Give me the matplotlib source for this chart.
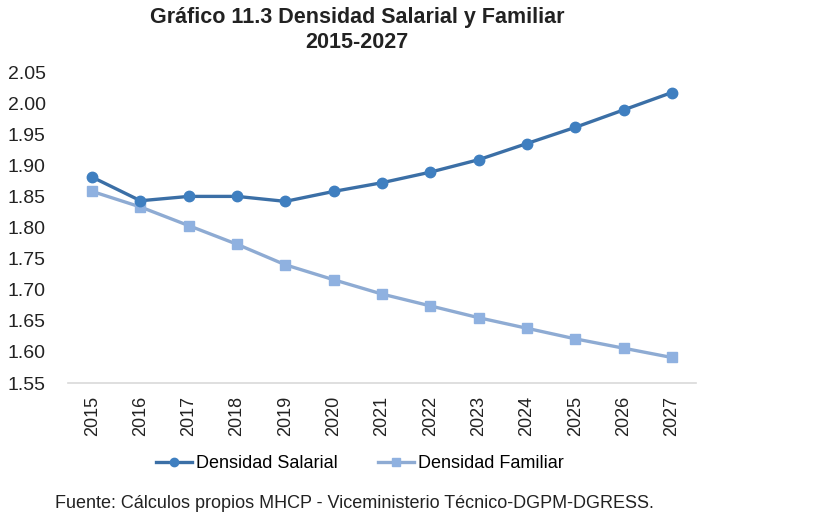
import matplotlib.pyplot as plt

years = ["2015", "2016", "2017", "2018", "2019", "2020", "2021",
         "2022", "2023", "2024", "2025", "2026", "2027"]
salarial = [1.881, 1.843, 1.850, 1.850, 1.842, 1.858, 1.872,
            1.889, 1.909, 1.935, 1.961, 1.989, 2.017]
familiar = [1.858, 1.833, 1.803, 1.773, 1.740, 1.716, 1.693,
            1.674, 1.655, 1.638, 1.621, 1.606, 1.591]
yticks = [1.55, 1.60, 1.65, 1.70, 1.75, 1.80, 1.85, 1.90, 1.95, 2.00, 2.05]

plt.rcParams['font.family'] = ['Liberation Sans', 'DejaVu Sans']

fig = plt.figure(figsize=(8.3, 5.27), dpi=100)
ax = fig.add_axes([68 / 830, 1 - 383 / 527, 628 / 830, 311 / 527])

x = range(len(years))
ax.plot(x, salarial, color='#3b6fa6', lw=2.4, marker='o', ms=7.5,
        mfc='#3f7fc0', mec='#3f7fc0', label='Densidad Salarial', zorder=3)
ax.plot(x, familiar, color='#8eabd3', lw=2.4, marker='s', ms=7.5,
        mfc='#8fb1e0', mec='#8fb1e0', label='Densidad Familiar', zorder=2)

ax.set_xlim(-0.5, len(years) - 0.5)
ax.set_ylim(1.55, 2.05)
ax.set_yticks(yticks)
ax.set_yticklabels([f"{v:.2f}" for v in yticks])
ax.set_xticks(list(x))
ax.set_xticklabels(years, rotation=90)
ax.tick_params(axis='both', length=0, colors='#222222')
ax.tick_params(axis='y', labelsize=14, pad=16)
ax.tick_params(axis='x', labelsize=13, pad=9)

for side in ['top', 'right', 'left']:
    ax.spines[side].set_visible(False)
ax.spines['bottom'].set_color('#d9d9d9')
ax.spines['bottom'].set_linewidth(1.2)

fig.text(357 / 830, 1 - 17 / 527, "Gráfico 11.3 Densidad Salarial y Familiar",
         ha='center', va='center', fontsize=15.5, fontweight='bold', color='#222222')
fig.text(357 / 830, 1 - 42 / 527, "2015-2027",
         ha='center', va='center', fontsize=15.5, fontweight='bold', color='#222222')

fig.legend(loc='center', bbox_to_anchor=(360 / 830, 1 - 464 / 527), ncol=2,
           frameon=False, fontsize=13, handlelength=2.0, columnspacing=2.2,
           handletextpad=0.25, markerscale=0.8)

fig.text(55 / 830, 1 - 503 / 527,
         "Fuente: Cálculos propios MHCP - Viceministerio Técnico-DGPM-DGRESS.",
         ha='left', va='center', fontsize=13, color='#222222')

fig.savefig('out.png', dpi=100)
